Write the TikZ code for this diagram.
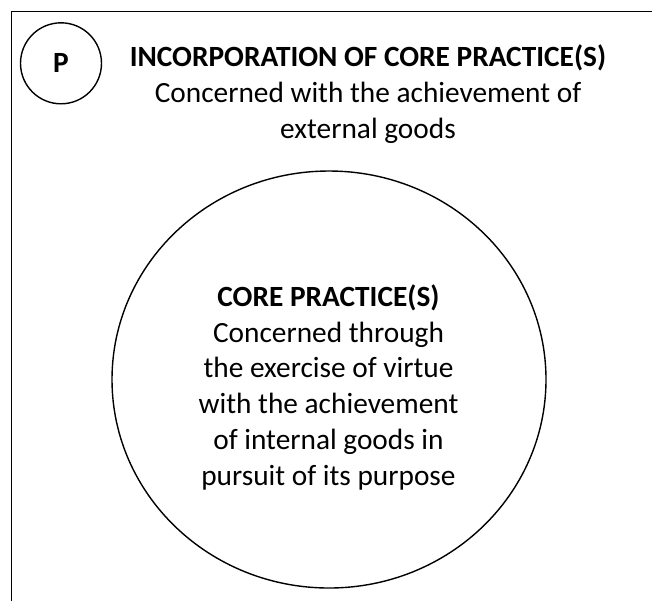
\documentclass[tikz,border=0pt]{standalone}
\usepackage{fontspec}
\setmainfont{Carlito}
\usetikzlibrary{shapes.geometric}
\begin{document}
\begin{tikzpicture}[x=0.75pt,y=-0.75pt,
  txt/.style={font=\fontsize{22}{26.8}\selectfont, align=center, inner sep=0pt, anchor=base},
  ring/.style={draw, line width=1.05pt, inner sep=0pt}]
\useasboundingbox (0,0) rectangle (652,601);
% open frame: left and top edges only
\coordinate (fbl) at (11.5,601);
\coordinate (ftl) at (11.5,11.5);
\coordinate (ftr) at (652,11.5);
\draw[line width=1.3pt] (fbl) -- (ftl) -- (ftr);
% label circle
\node[ring, circle, minimum size=60.75pt, font=\fontsize{22}{26.8}\selectfont\bfseries] (p) at (61,63.3) {P};
% outer description (anchored at the baseline of its last line)
\node[txt] (outer) at (368,138) {\textbf{INCORPORATION OF CORE PRACTICE(S)}\\Concerned with the achievement of\\external goods};
% core practice circle
\node[ring, ellipse, minimum width=325.5pt, minimum height=312.75pt] (core) at (329,379.5) {};
\node[txt] (coretxt) at (328.5,485) {\textbf{CORE PRACTICE(S)}\\Concerned through\\the exercise of virtue\\with the achievement\\of internal goods in\\pursuit of its purpose};
\end{tikzpicture}
\end{document}
